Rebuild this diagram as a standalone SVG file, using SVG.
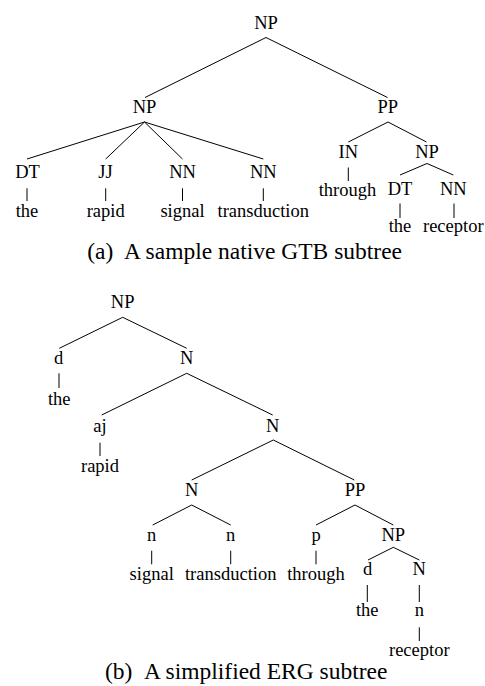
<svg xmlns="http://www.w3.org/2000/svg" width="485" height="686" viewBox="0 0 485 686">
<style>
text{font-family:"Liberation Serif","Times New Roman",serif;fill:#000}
.l{font-size:18.5px;text-anchor:middle}
.c{font-size:23.5px}
.e line{stroke:#000;stroke-width:1}
</style>
<rect width="485" height="686" fill="#fff"/>
<g class="e" id="connectors">
<line x1="266" y1="37.5" x2="145" y2="97.5"/>
<line x1="266" y1="37.5" x2="387.5" y2="97.5"/>
<line x1="144.5" y1="122" x2="27" y2="159"/>
<line x1="144.5" y1="122" x2="105.7" y2="159"/>
<line x1="144.5" y1="122" x2="182.5" y2="159"/>
<line x1="144.5" y1="122" x2="263.3" y2="159"/>
<line x1="27" y1="188.3" x2="27" y2="201"/>
<line x1="105.7" y1="188.3" x2="105.7" y2="201"/>
<line x1="182.5" y1="188.3" x2="182.5" y2="201"/>
<line x1="263.3" y1="188.3" x2="263.3" y2="201"/>
<line x1="388" y1="122" x2="348.3" y2="142"/>
<line x1="388" y1="122" x2="426.5" y2="142"/>
<line x1="348.3" y1="167.5" x2="348.3" y2="181"/>
<line x1="427" y1="163.5" x2="400" y2="175"/>
<line x1="427" y1="163.5" x2="453.3" y2="175"/>
<line x1="400" y1="203.5" x2="400" y2="218"/>
<line x1="454" y1="203.5" x2="454" y2="218"/>
<line x1="122.7" y1="317.3" x2="59.3" y2="348.3"/>
<line x1="122.7" y1="317.3" x2="186.7" y2="348.3"/>
<line x1="59" y1="373.3" x2="59" y2="388"/>
<line x1="186.7" y1="373.3" x2="101.7" y2="415"/>
<line x1="186.7" y1="373.3" x2="272.7" y2="415"/>
<line x1="100" y1="442.7" x2="100" y2="456"/>
<line x1="273.3" y1="440" x2="191.7" y2="480"/>
<line x1="273.3" y1="440" x2="354.3" y2="480"/>
<line x1="191.7" y1="505" x2="152.7" y2="525"/>
<line x1="191.7" y1="505" x2="230.7" y2="525"/>
<line x1="355" y1="505" x2="316" y2="525"/>
<line x1="355" y1="505" x2="393.3" y2="525"/>
<line x1="151.7" y1="550.7" x2="151.7" y2="564.3"/>
<line x1="230.7" y1="550.7" x2="230.7" y2="564.3"/>
<line x1="316" y1="550.7" x2="316" y2="564.3"/>
<line x1="393.3" y1="547.3" x2="368" y2="560"/>
<line x1="393.3" y1="547.3" x2="419.3" y2="560"/>
<line x1="367.3" y1="585" x2="367.3" y2="602"/>
<line x1="419.3" y1="585" x2="419.3" y2="602"/>
<line x1="419.3" y1="627.3" x2="419.3" y2="641"/>
</g>
<g id="a_np0"><text class="l" x="266" y="28.5">NP</text></g>
<g id="a_np1"><text class="l" x="144.5" y="113.3">NP</text></g>
<g id="a_pp"><text class="l" x="387.7" y="113.3">PP</text></g>
<g id="a_dt"><text class="l" x="27.5" y="178.3">DT</text></g>
<g id="a_jj"><text class="l" x="105.5" y="178.3">JJ</text></g>
<g id="a_nn1"><text class="l" x="182.5" y="178.3">NN</text></g>
<g id="a_nn2"><text class="l" x="263.3" y="178.3">NN</text></g>
<g id="a_the"><text class="l" x="27" y="216.7">the</text></g>
<g id="a_rapid"><text class="l" x="105.7" y="216.7">rapid</text></g>
<g id="a_signal"><text class="l" x="182.5" y="216.7">signal</text></g>
<g id="a_transduction"><text class="l" x="263.3" y="216.7">transduction</text></g>
<g id="a_in"><text class="l" x="348.3" y="157.5">IN</text></g>
<g id="a_np2"><text class="l" x="427" y="157.5">NP</text></g>
<g id="a_through"><text class="l" x="347.5" y="195.5">through</text></g>
<g id="a_dt2"><text class="l" x="400" y="195">DT</text></g>
<g id="a_nn3"><text class="l" x="453.3" y="195">NN</text></g>
<g id="a_the2"><text class="l" x="400" y="231.5">the</text></g>
<g id="a_receptor"><text class="l" x="453.3" y="231.5">receptor</text></g>
<g id="caption_a"><text class="c" x="87.3" y="259">(a)</text><text class="c" x="124" y="259">A sample native GTB subtree</text></g>
<g id="b_np0"><text class="l" x="122.7" y="308.3">NP</text></g>
<g id="b_d"><text class="l" x="58.5" y="364">d</text></g>
<g id="b_n0"><text class="l" x="186.7" y="364">N</text></g>
<g id="b_the"><text class="l" x="59.3" y="405">the</text></g>
<g id="b_aj"><text class="l" x="100" y="431.7">aj</text></g>
<g id="b_n1"><text class="l" x="272.7" y="431.7">N</text></g>
<g id="b_rapid"><text class="l" x="100" y="471.7">rapid</text></g>
<g id="b_n2"><text class="l" x="191.7" y="496">N</text></g>
<g id="b_pp"><text class="l" x="355" y="496">PP</text></g>
<g id="b_n_a"><text class="l" x="151.7" y="540.7">n</text></g>
<g id="b_n_b"><text class="l" x="230.7" y="540.7">n</text></g>
<g id="b_p"><text class="l" x="316" y="540.7">p</text></g>
<g id="b_np1"><text class="l" x="393.3" y="540.7">NP</text></g>
<g id="b_signal"><text class="l" x="151.7" y="580">signal</text></g>
<g id="b_transduction"><text class="l" x="230.7" y="580">transduction</text></g>
<g id="b_through"><text class="l" x="316" y="580">through</text></g>
<g id="b_d2"><text class="l" x="367.5" y="575">d</text></g>
<g id="b_n3"><text class="l" x="419.3" y="575">N</text></g>
<g id="b_the2"><text class="l" x="367.3" y="616">the</text></g>
<g id="b_n_c"><text class="l" x="419.3" y="616">n</text></g>
<g id="b_receptor"><text class="l" x="419.3" y="655.5">receptor</text></g>
<g id="caption_b"><text class="c" x="105" y="679.3">(b)</text><text class="c" x="144" y="679.3">A simplified ERG subtree</text></g>
</svg>
